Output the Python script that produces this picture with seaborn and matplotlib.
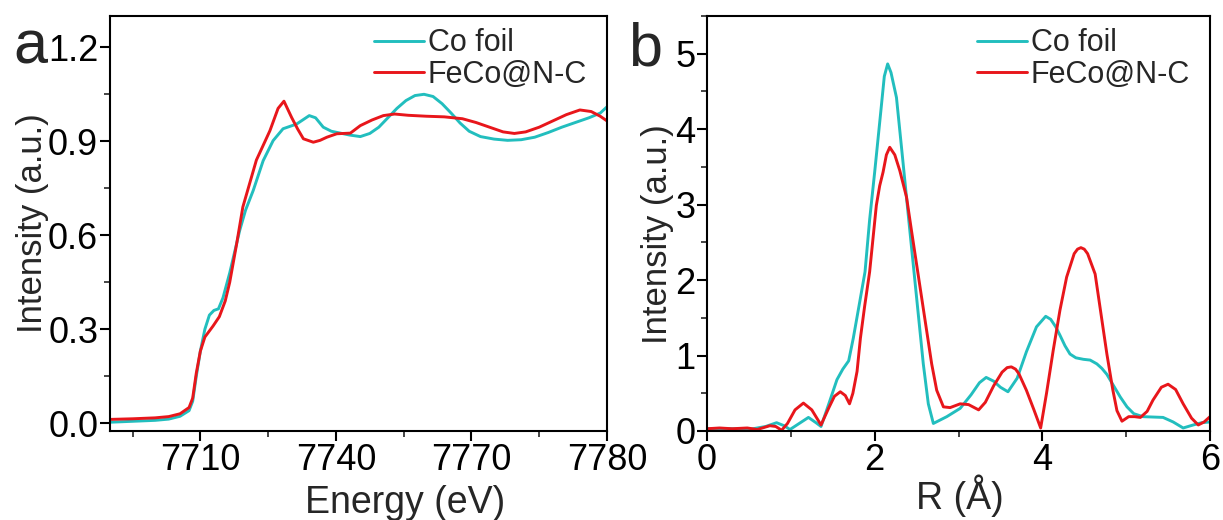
import numpy as np
import pandas as pd
import seaborn as sns
import matplotlib.pyplot as plt
from matplotlib.ticker import MultipleLocator, FixedLocator

sns.set_style('ticks')
plt.rcParams['font.family'] = ['Liberation Sans', 'DejaVu Sans']

# Panel a: XANES, Co K-edge
energy_co = [7690, 7695, 7700, 7703, 7705.5, 7707.5, 7708.3, 7709.1, 7710, 7711,
             7712, 7713, 7714, 7715, 7716.5, 7718.7, 7720, 7721.7, 7723.9, 7726.1,
             7728.3, 7731.3, 7734.1, 7735.5, 7737.2, 7739, 7741, 7743, 7745.4, 7747.5,
             7749.5, 7751.5, 7753.5, 7755.5, 7757.5, 7759.5, 7761.5, 7763.5, 7765.5, 7767.5,
             7769.5, 7772, 7775, 7778, 7781, 7784, 7787, 7790, 7793, 7796,
             7798.5, 7800]
mu_co = [0.003, 0.006, 0.009, 0.013, 0.022, 0.04, 0.07, 0.15, 0.23, 0.30,
         0.345, 0.36, 0.365, 0.40, 0.48, 0.615, 0.68, 0.743, 0.838, 0.902,
         0.94, 0.955, 0.982, 0.975, 0.945, 0.932, 0.926, 0.92, 0.915, 0.925,
         0.945, 0.975, 1.005, 1.03, 1.046, 1.05, 1.043, 1.02, 0.99, 0.958,
         0.932, 0.915, 0.907, 0.903, 0.905, 0.913, 0.928, 0.945, 0.96, 0.975,
         0.99, 1.01]

energy_feco = [7690, 7695, 7700, 7703, 7705.5, 7707.5, 7708.3, 7709.1, 7710, 7711,
               7712.8, 7714.2, 7715.5, 7716.5, 7718, 7719.4, 7721, 7722.4, 7724, 7725.4,
               7727.2, 7728.5, 7730.2, 7731.5, 7732.8, 7735, 7736.5, 7738, 7740.2, 7743.2,
               7745.4, 7748, 7750.5, 7753, 7756, 7760, 7764, 7768, 7771, 7774,
               7777, 7779.5, 7782, 7785, 7788, 7791, 7794, 7796.5, 7798.5, 7800]
mu_feco = [0.012, 0.014, 0.017, 0.021, 0.03, 0.05, 0.08, 0.16, 0.23, 0.275,
           0.31, 0.34, 0.39, 0.45, 0.57, 0.69, 0.77, 0.84, 0.89, 0.934,
           1.005, 1.028, 0.976, 0.94, 0.908, 0.897, 0.903, 0.913, 0.924, 0.926,
           0.95, 0.968, 0.982, 0.987, 0.983, 0.98, 0.978, 0.972, 0.96, 0.945,
           0.93, 0.925, 0.93, 0.945, 0.965, 0.985, 1.0, 0.995, 0.98, 0.965]

# Panel b: FT-EXAFS
r_co = [0.0, 0.3, 0.5, 0.7, 0.83, 0.92, 0.99, 1.1, 1.21, 1.3,
        1.36, 1.45, 1.55, 1.62, 1.69, 1.745, 1.82, 1.885, 1.94, 2.0,
        2.08, 2.115, 2.155, 2.195, 2.26, 2.34, 2.40, 2.46, 2.52, 2.58,
        2.64, 2.70, 2.86, 3.02, 3.15, 3.25, 3.33, 3.42, 3.5, 3.59,
        3.7, 3.81, 3.93, 4.04, 4.1, 4.16, 4.21, 4.27, 4.33, 4.4,
        4.49, 4.57, 4.65, 4.71, 4.77, 4.85, 4.93, 5.01, 5.09, 5.2,
        5.44, 5.56, 5.68, 5.8, 5.9, 6.0]
ft_co = [0.03, 0.03, 0.02, 0.06, 0.11, 0.07, 0.02, 0.10, 0.18, 0.11,
         0.06, 0.35, 0.68, 0.82, 0.93, 1.23, 1.7, 2.11, 2.8, 3.43,
         4.31, 4.7, 4.865, 4.75, 4.42, 3.54, 2.87, 2.21, 1.55, 0.89,
         0.36, 0.10, 0.19, 0.30, 0.48, 0.64, 0.71, 0.66, 0.58, 0.52,
         0.7, 1.05, 1.38, 1.52, 1.48, 1.38, 1.27, 1.13, 1.02, 0.97,
         0.95, 0.94, 0.89, 0.83, 0.75, 0.6, 0.45, 0.32, 0.23, 0.19,
         0.18, 0.12, 0.04, 0.08, 0.11, 0.12]

r_feco = [0.0, 0.15, 0.3, 0.48, 0.6, 0.75, 0.82, 0.89, 0.96, 1.05,
          1.15, 1.25, 1.36, 1.45, 1.52, 1.59, 1.65, 1.70, 1.74, 1.79,
          1.83, 1.88, 1.94, 2.02, 2.06, 2.10, 2.14, 2.18, 2.24, 2.30,
          2.38, 2.44, 2.50, 2.56, 2.62, 2.68, 2.74, 2.82, 2.90, 3.02,
          3.12, 3.24, 3.32, 3.42, 3.52, 3.58, 3.63, 3.68, 3.72, 3.81,
          3.9, 3.98, 4.05, 4.13, 4.21, 4.29, 4.38, 4.42, 4.46, 4.50,
          4.54, 4.63, 4.70, 4.77, 4.84, 4.89, 4.95, 5.03, 5.1, 5.17,
          5.25, 5.32, 5.42, 5.50, 5.59, 5.68, 5.78, 5.86, 5.93, 6.0]
ft_feco = [0.03, 0.04, 0.03, 0.04, 0.02, 0.07, 0.06, 0.01, 0.1, 0.28,
           0.37, 0.28, 0.08, 0.3, 0.46, 0.52, 0.47, 0.36, 0.5, 0.79,
           1.23, 1.65, 2.11, 2.99, 3.25, 3.43, 3.66, 3.76, 3.66, 3.45,
           3.10, 2.65, 2.21, 1.77, 1.33, 0.89, 0.54, 0.32, 0.31, 0.36,
           0.35, 0.28, 0.38, 0.6, 0.78, 0.84, 0.85, 0.82, 0.76, 0.54,
           0.28, 0.04, 0.5, 1.07, 1.6, 2.04, 2.35, 2.41, 2.43, 2.41,
           2.35, 2.08, 1.55, 1.02, 0.55, 0.27, 0.13, 0.19, 0.19, 0.18,
           0.26, 0.41, 0.58, 0.62, 0.55, 0.36, 0.17, 0.08, 0.12, 0.19]

labels = ['Co foil', 'FeCo@N-C']
colors = {'Co foil': '#22bebe', 'FeCo@N-C': '#e8161b'}

xanes = pd.concat([
    pd.DataFrame({'x': energy_co, 'y': mu_co, 'sample': labels[0]}),
    pd.DataFrame({'x': energy_feco, 'y': mu_feco, 'sample': labels[1]}),
])
exafs = pd.concat([
    pd.DataFrame({'x': r_co, 'y': ft_co, 'sample': labels[0]}),
    pd.DataFrame({'x': r_feco, 'y': ft_feco, 'sample': labels[1]}),
])

W, H = 1223, 520
fig = plt.figure(figsize=(W / 100, H / 100), dpi=100)
ax_a = fig.add_axes([110 / W, 1 - 431 / H, 497 / W, 415 / H])
ax_b = fig.add_axes([707 / W, 1 - 431 / H, 503 / W, 415 / H])

for ax, df in [(ax_a, xanes), (ax_b, exafs)]:
    sns.lineplot(data=df, x='x', y='y', hue='sample', palette=colors,
                 sort=False, estimator=None, linewidth=2.1, ax=ax)
    ax.set_xlabel('')
    ax.set_ylabel('')
    for s in ax.spines.values():
        s.set_linewidth(1.5)
        s.set_color('black')
    ax.tick_params(which='major', direction='out', length=7, width=1.5,
                   labelsize=26, pad=1.5, colors='black')
    ax.tick_params(which='minor', direction='out', length=4, width=1.2)

# panel a axes
ax_a.set_xlim(7690, 7800)
ax_a.set_ylim(-0.025, 1.3)
ax_a.xaxis.set_major_locator(FixedLocator([7710, 7740, 7770, 7800]))
ax_a.set_xticklabels(['7710', '7740', '7770', '7780'])
ax_a.xaxis.set_minor_locator(FixedLocator([7695, 7725, 7755, 7785]))
ax_a.yaxis.set_major_locator(MultipleLocator(0.3))
ax_a.yaxis.set_minor_locator(MultipleLocator(0.15))
ax_a.yaxis.set_major_formatter(plt.FormatStrFormatter('%.1f'))

# panel b axes
ax_b.set_xlim(0, 6)
ax_b.set_ylim(0, 5.5)
ax_b.xaxis.set_major_locator(MultipleLocator(2))
ax_b.xaxis.set_minor_locator(MultipleLocator(1))
ax_b.yaxis.set_major_locator(MultipleLocator(1))
ax_b.yaxis.set_minor_locator(MultipleLocator(0.5))

# legends
for ax, xa in [(ax_a, 0.531), (ax_b, 0.536)]:
    ax.legend(loc='upper left', bbox_to_anchor=(xa, 0.97), frameon=False,
              fontsize=22, handlelength=1.65, handletextpad=0.12,
              labelspacing=0.05, borderpad=0, borderaxespad=0)

# axis labels and panel letters
fig.text(405 / W, 1 - 513 / H, 'Energy (eV)', ha='center', va='baseline', fontsize=27)
fig.text(960 / W, 1 - 509 / H, 'R (Å)', ha='center', va='baseline', fontsize=27)
fig.text(33 / W, 1 - 223.5 / H, 'Intensity (a.u.)', ha='center', va='center',
         rotation=90, fontsize=25)
fig.text(657 / W, 1 - 234 / H, 'Intensity (a.u.)', ha='center', va='center',
         rotation=90, fontsize=25)
fig.text(30 / W, 1 - 63 / H, 'a', ha='center', va='baseline', fontsize=44)
fig.text(645 / W, 1 - 65 / H, 'b', ha='center', va='baseline', fontsize=44)

fig.savefig('out.png', dpi=100)
